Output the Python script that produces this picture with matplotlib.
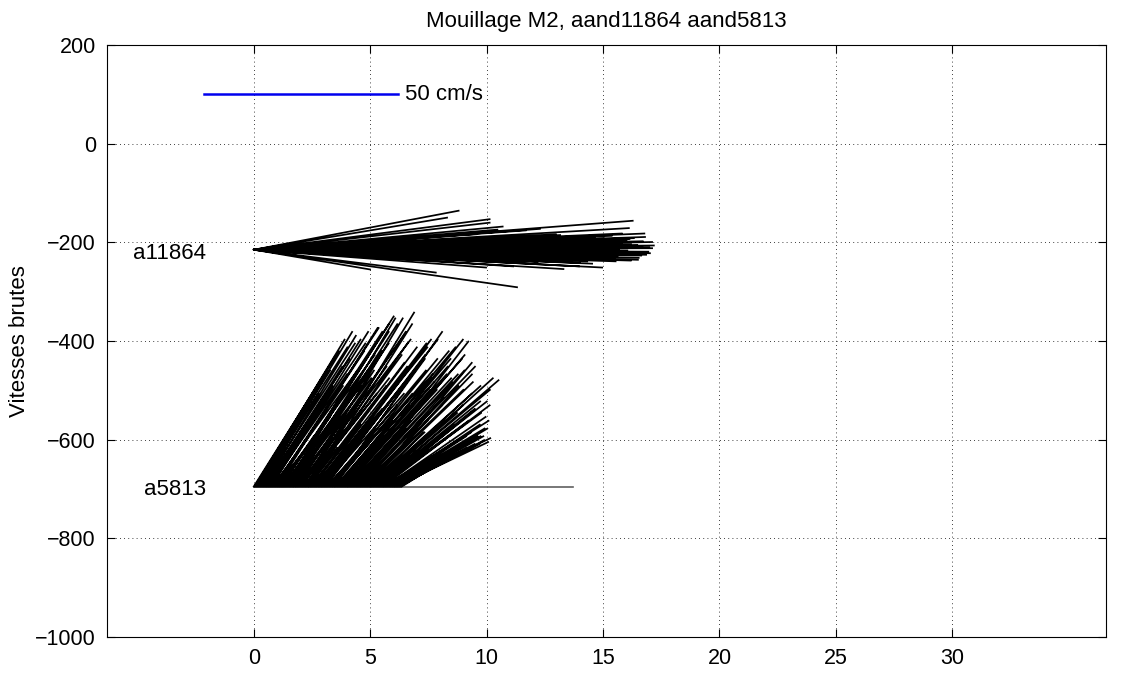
import numpy as np
import matplotlib
matplotlib.use("Agg")
import matplotlib.pyplot as plt

plt.rcParams['font.family'] = ['Liberation Sans', 'DejaVu Sans']

# Raw current vectors (cm/s) for the two current meters of mooring M2
a11864_u = [53, 50, 61, 61, 63, 74, 98, 97, 101, 103, 103, 102, 96, 94, 30, 47, 60, 67, 68, 80, 84, 90,
            70, 72, 75, 78, 80, 82, 85, 88, 90, 92, 94, 95, 97, 99, 100, 101, 65, 68, 72, 76,
            79, 83, 86, 89, 91, 93, 95, 98, 100, 102, 55, 58, 62, 66, 70, 74, 77, 81, 84, 87,
            92, 96, 99, 64, 73, 88,
            60, 63, 67, 71, 74, 78, 81, 84, 86, 89, 91, 93, 96, 98, 100, 102, 103, 101, 97, 94,
            90, 87, 83, 79, 75, 71, 68, 92, 95, 99, 57, 85, 88, 93, 97, 100, 76, 82, 96, 90]
a11864_v = [10.1, 8.3, 7.9, 7.0, 5.2, 5.4, 7.5, 5.6, 4.2, 2.0, 0.4, -0.5, -1.1, -1.8, -5.1, -5.9, -4.6, -4.3,
            -9.7, -5.0, -4.3, -4.6,
            3.5, 2.0, 1.0, 4.0, -1.0, 2.5, 0.5, 3.0, -2.0, 1.5, -0.5, 4.2, 2.8, 1.2, -1.5, 3.3, 0.8, -2.5,
            2.2, -0.8, 3.8, 1.0, -3.0, 2.0, 0.2, -2.2, 1.6, 3.0, -1.2, 0.6, 1.8, 4.5, -1.5, 2.6, 5.0, -2.8,
            0.0, 3.2, -3.4, 1.4, -0.2, 2.4, -2.6, 6.0, -3.2, 0.8,
            2.8, -1.8, 1.2, -0.4, 3.6, -2.0, 0.9, 2.2, -1.0, 1.9, -2.4, 0.3, 2.1, -0.7, 1.0, -0.9, 1.1,
            -1.3, -2.8, 0.1, 2.9, -3.6, -0.3, 1.7, -2.6, 3.1, -3.0, 3.6, 0.9, -2.1, 4.0, 2.7, -1.6, -3.0,
            1.4, 2.2, 0.4, -0.6, -0.2, 1.1]

a5813_u = [22, 21, 23, 19, 18, 23, 24, 15, 12, 24, 24, 22, 20, 11, 8, 24, 25, 20, 16, 25,
           22, 18, 27, 23, 14, 26, 25, 9, 10, 24, 26, 22, 20, 27, 28, 14, 17, 26, 24, 21,
           12, 25, 27, 16, 26, 28, 20, 23, 29, 12, 15, 27, 26, 19, 22, 25, 8, 26, 27.5, 20,
           26.5, 13, 24, 27, 18, 24, 29, 17, 12, 28, 25, 22, 28.5, 10, 21, 26, 26, 29, 15, 18,
           27, 25, 10, 21, 24, 27, 28, 15, 19, 29, 25, 24, 30, 12, 13, 28, 27, 20, 22, 26,
           30, 23, 16, 29, 26, 14, 29, 27, 11, 25, 29, 18, 22, 30, 27, 21, 17, 26, 28, 28,
           24, 15, 27, 29, 14, 24, 26, 22, 31, 30, 32, 27, 20, 25, 28, 23, 26, 28, 24, 21,
           27, 26, 22, 24, 25, 20, 26, 25, 23, 22, 21, 23, 24, 19, 18, 21, 22, 16, 6, 8]
a5813_v = [35, 34, 38, 30, 30, 36, 40, 24, 20, 37, 39, 33, 31, 17, 12, 38, 37, 29, 26, 40,
           30, 26, 41, 35, 18, 41, 34, 13, 14, 36, 40, 30, 26, 42, 44, 20, 22, 40, 35, 28,
           15, 37, 42, 21, 43.5, 39, 30, 31, 38, 15, 18, 40, 43.5, 24, 28, 34, 10, 37, 45, 26,
           42, 16, 32, 36, 20, 31, 36, 20, 13, 37, 30, 27, 38, 12, 24, 33, 34, 38, 16, 21,
           29, 30, 11, 24, 33, 33, 40, 17, 21, 35, 27, 28, 36, 13, 14, 33, 31, 22, 25, 29,
           38, 25, 17, 33, 28, 15, 34, 29, 12, 27, 37.5, 19, 23, 31, 30, 21, 17, 25, 29, 27,
           26, 14, 32, 26, 14, 21, 24, 19, 28, 25, 27.5, 22, 16, 20, 22, 17, 19, 21, 20, 16,
           17, 18, 14, 16, 15, 13, 12.5, 15, 13, 13, 11, 13, 11.5, 10, 10, 11, 12, 9, 5, 5]

# Sampling interval (days) and record end for each instrument
a11864_dt = 0.001
a5813_dt = 0.04
a5813_end = 13.7

# Vertical offsets of each stick series and their labels
series_names = ['a11864', 'a5813']
series_offsets = [-215, -695]

ref_speed = 50          # cm/s, scale bar
ref_x0, ref_y = -2.12, 100
x_per_cms = 8.3 / 50    # horizontal axis units per cm/s

xlim = (-6.3, 36.6)
ylim = (-1000, 200)

fig = plt.figure(figsize=(11.28, 6.75), dpi=100)
ax_box = [0.0949, 0.0563, 0.8856, 0.877]
ax = fig.add_axes(ax_box)
ax.set_xlim(*xlim)
ax.set_ylim(*ylim)

# keep sticks isotropic on screen
W = fig.get_figwidth() * fig.dpi * ax_box[2]
H = fig.get_figheight() * fig.dpi * ax_box[3]
px_x = W / (xlim[1] - xlim[0])
px_y = H / (ylim[1] - ylim[0])
y_per_cms = x_per_cms * px_x / px_y


def sticks(t, u, v, y0):
    t = np.asarray(t, float)
    u = np.asarray(u, float)
    v = np.asarray(v, float)
    xs = np.column_stack([t, t + u * x_per_cms, np.full_like(t, np.nan)]).ravel()
    ys = np.column_stack([np.full_like(t, y0), y0 + v * y_per_cms, np.full_like(t, np.nan)]).ravel()
    return xs, ys


t1 = np.arange(len(a11864_u)) * a11864_dt
t2 = np.arange(len(a5813_u)) * a5813_dt

ax.plot([0, a5813_end], [series_offsets[1]] * 2, color='#606060', lw=1.2, zorder=2)

for t, u, v, y0 in [(t1, a11864_u, a11864_v, series_offsets[0]),
                    (t2, a5813_u, a5813_v, series_offsets[1])]:
    xs, ys = sticks(t, u, v, y0)
    ax.plot(xs, ys, color='black', lw=1.25, zorder=3)

for name, y0 in zip(series_names, series_offsets):
    ax.text(-2.05, y0 - 7, name, ha='right', va='center', fontsize=16)

ax.plot([ref_x0, ref_x0 + ref_speed * x_per_cms], [ref_y, ref_y], color='#0000ee', lw=1.8, zorder=3)
ax.text(ref_x0 + ref_speed * x_per_cms + 0.3, ref_y, f'{ref_speed} cm/s', ha='left', va='center',
        fontsize=16)

ax.set_xticks([0, 5, 10, 15, 20, 25, 30])
ax.set_yticks(np.arange(-1000, 201, 200))
ax.set_yticklabels(['\u22121000', '\u2212800', '\u2212600', '\u2212400', '\u2212200', '0', '200'])
ax.grid(True, linestyle=(0, (1, 4)), color='black', lw=0.6)
ax.tick_params(direction='in', length=6, width=0.8, top=True, right=True, labelsize=15.5, pad=8)
for s in ax.spines.values():
    s.set_linewidth(0.8)

ax.set_ylabel('Vitesses brutes', fontsize=16, labelpad=4)
ax.set_title('Mouillage M2, aand11864 aand5813', fontsize=16, pad=13)

fig.savefig('out.png', dpi=100)
